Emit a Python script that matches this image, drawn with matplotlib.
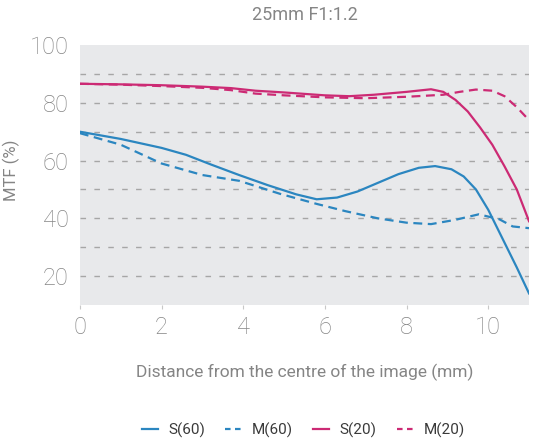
import matplotlib
matplotlib.use("Agg")
from matplotlib import pyplot as plt
from matplotlib.lines import Line2D

# values
x_s20 = [0, 1, 2, 3, 3.7, 4.3, 5, 6, 6.6, 7.2, 8, 8.6, 8.9, 9.2, 9.5, 9.8, 10.1, 10.4, 10.7, 11]
s20 = [86.6, 86.4, 86.1, 85.6, 85.1, 84.2, 83.6, 82.6, 82.3, 82.8, 83.8, 84.7, 83.8, 81, 77, 71.5, 65.5, 58, 50, 39]

x_m20 = [0, 1, 2, 3, 3.7, 4.3, 5, 6, 7, 8, 8.9, 9.3, 9.7, 10.1, 10.4, 10.7, 11]
m20 = [86.6, 86.3, 85.8, 85.2, 84.4, 83.2, 82.6, 81.9, 81.6, 82.1, 82.8, 83.8, 84.6, 84.2, 82.3, 78.5, 74]

x_s60 = [0, 1, 2, 2.6, 3.2, 3.9, 4.6, 5.3, 5.8, 6.3, 6.8, 7.3, 7.8, 8.3, 8.7, 9.1, 9.4, 9.7, 10.0, 10.35, 10.7, 11]
s60 = [70, 67.5, 64.4, 62, 58.7, 55, 51.5, 48.3, 46.6, 47.2, 49.3, 52.3, 55.3, 57.5, 58.1, 57, 54.5, 50, 43, 33, 23, 14]

x_m60 = [0, 1, 2, 3, 3.9, 4.9, 5.8, 6.5, 7.3, 8.0, 8.6, 9.2, 9.77, 10.27, 10.6, 11]
m60 = [69.5, 65.5, 59, 55, 53, 48.5, 45, 42.5, 40, 38.5, 38, 39.5, 41.4, 39.7, 37.2, 36.6]

x_ticks = [0, 2, 4, 6, 8, 10]
y_ticks = [20, 40, 60, 80, 100]
grid_levels = [20, 30, 40, 50, 60, 70, 80, 90]

blue = '#2b86c0'
pink = '#cc2a74'
txt = '#858585'

plt.rcParams['font.family'] = ['Roboto', 'DejaVu Sans']
plt.rcParams['font.weight'] = 'light'

fig = plt.figure(figsize=(5.36, 4.42), dpi=100)
ax = fig.add_axes([0.149, 0.310, 0.838, 0.588])
ax.set_facecolor('#e8e9eb')
for s in ax.spines.values():
    s.set_visible(False)

for g in grid_levels:
    ax.axhline(g, color='#a6a6a6', lw=1, dashes=(4, 6), zorder=1)

ax.plot(x_s60, s60, color=blue, lw=1.6, zorder=3)
ax.plot(x_m60, m60, color=blue, lw=1.6, dashes=(4, 2.5), zorder=3)
ax.plot(x_s20, s20, color=pink, lw=1.6, zorder=3)
ax.plot(x_m20, m20, color=pink, lw=1.6, dashes=(4, 2.5), zorder=3)

ax.set_xlim(0, 11)
ax.set_ylim(10, 100)
ax.set_xticks(x_ticks)
ax.set_yticks(y_ticks)
ax.tick_params(axis='x', length=3, color='#c8c8c8', labelsize=17,
               labelcolor=txt, pad=5)
ax.tick_params(axis='y', length=0, labelsize=17, labelcolor=txt, pad=8)

ax.set_title('25mm F1:1.2', color=txt, fontsize=13, pad=18)
ax.set_xlabel('Distance from the centre of the image (mm)', color=txt,
              fontsize=12.5, labelpad=18)
ax.set_ylabel('MTF (%)', color=txt, fontsize=12)
ax.yaxis.set_label_coords(-0.134, 0.52)

handles = [
    Line2D([], [], color=blue, lw=1.6),
    Line2D([], [], color=blue, lw=1.6, dashes=(2.5, 2)),
    Line2D([], [], color=pink, lw=1.6),
    Line2D([], [], color=pink, lw=1.6, dashes=(2.5, 2)),
]
leg = fig.legend(handles, ['S(60)', 'M(60)', 'S(20)', 'M(20)'], loc='center',
                 ncol=4, frameon=False, fontsize=11, labelcolor='#3a3a3a',
                 handlelength=1.05, handletextpad=0.7, columnspacing=1.3,
                 bbox_to_anchor=(0.566, 0.027))
for t in leg.get_texts():
    t.set_fontweight('normal')

fig.savefig('out.png', dpi=100)
